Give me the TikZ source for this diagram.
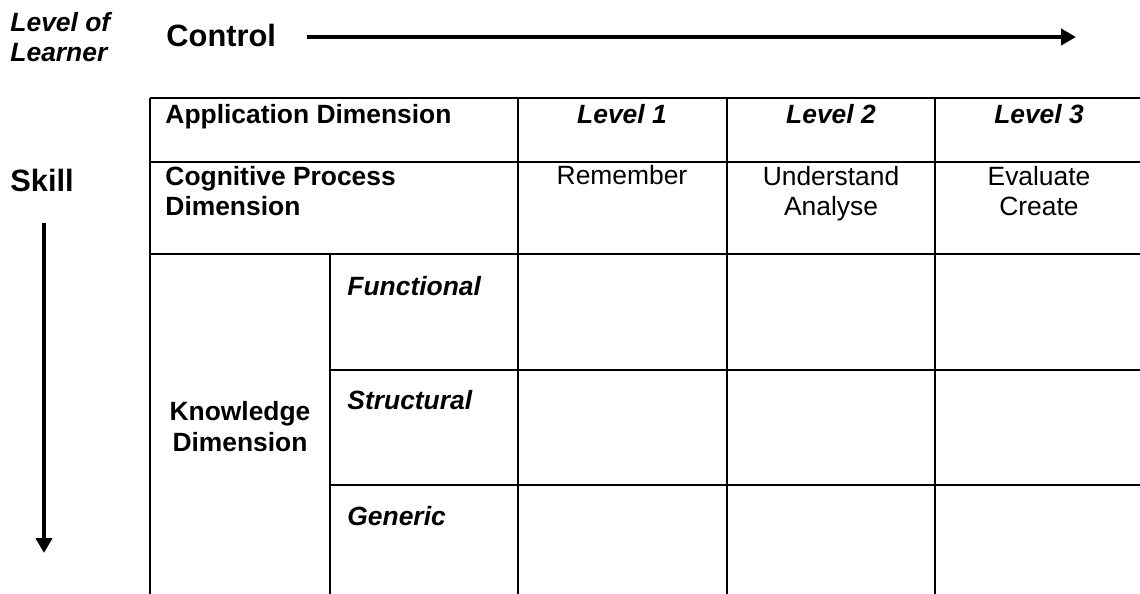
\documentclass[tikz,border=0pt]{standalone}
\usepackage{fontspec}
\setmainfont{Liberation Sans}
\usetikzlibrary{arrows.meta,positioning}

\begin{document}
\begin{tikzpicture}[x=0.4545pt,y=-0.4545pt,
  normal/.style={inner sep=0pt,font=\fontsize{12}{14}\selectfont},
  bold/.style={normal,font=\fontsize{12}{14}\selectfont\bfseries},
  boldit/.style={normal,font=\fontsize{12}{14}\selectfont\bfseries\itshape},
  big/.style={normal,font=\fontsize{14}{16}\selectfont\bfseries},
  rule/.style={line width=0.9pt},
  bigarrow/.style={line width=1.8pt,-{Triangle[length=6.8pt,width=7.3pt]}}]
\clip (0,0) rectangle (1140,594);
\fill[white] (0,0) rectangle (1140,594);

\node[boldit,anchor=base west,align=left] (learner) at (10,62) {Level of\\Learner};
\node[big,anchor=base west] (control) at (166,47) {Control};
\node[big,anchor=base west] (skill) at (10,192) {Skill};
\coordinate (ctrlstart) at (307,37);
\coordinate (ctrlend) at (1076,37);
\coordinate (skillstart) at (44,223);
\coordinate (skillend) at (44,553);
\draw[bigarrow] (ctrlstart) -- (ctrlend);
\draw[bigarrow] (skillstart) -- (skillend);

\draw[rule] (150,98) -- (1143,98);
\draw[rule] (150,162) -- (1143,162);
\draw[rule] (150,254) -- (1143,254);
\draw[rule] (330,370) -- (1143,370);
\draw[rule] (330,485) -- (1143,485);
\draw[rule] (150,98) -- (150,600);
\draw[rule] (330,254) -- (330,600);
\draw[rule] (518,98) -- (518,600);
\draw[rule] (727,98) -- (727,600);
\draw[rule] (935,98) -- (935,600);
\draw[rule] (1143,98) -- (1143,600);

\node[bold,anchor=base west] (app) at (165,124) {Application Dimension};
\node[boldit,anchor=base] (lev1) at (622,124) {Level 1};
\node[boldit,anchor=base] (lev2) at (831,124) {Level 2};
\node[boldit,anchor=base] (lev3) at (1039,124) {Level 3};
\node[bold,anchor=base west,align=left] (cog) at (165,216) {Cognitive Process\\Dimension};
\node[normal,anchor=base] (rem) at (622,185) {Remember};
\node[normal,anchor=base,align=center] (und) at (831,216) {Understand\\Analyse};
\node[normal,anchor=base,align=center] (eva) at (1039,216) {Evaluate\\Create};
\node[bold,anchor=base,align=center] (know) at (240,451) {Knowledge\\Dimension};
\node[boldit,anchor=base west] (func) at (347,296) {Functional};
\node[boldit,anchor=base west] (struc) at (347,410) {Structural};
\node[boldit,anchor=base west] (gen) at (347,525) {Generic};
\end{tikzpicture}
\end{document}
